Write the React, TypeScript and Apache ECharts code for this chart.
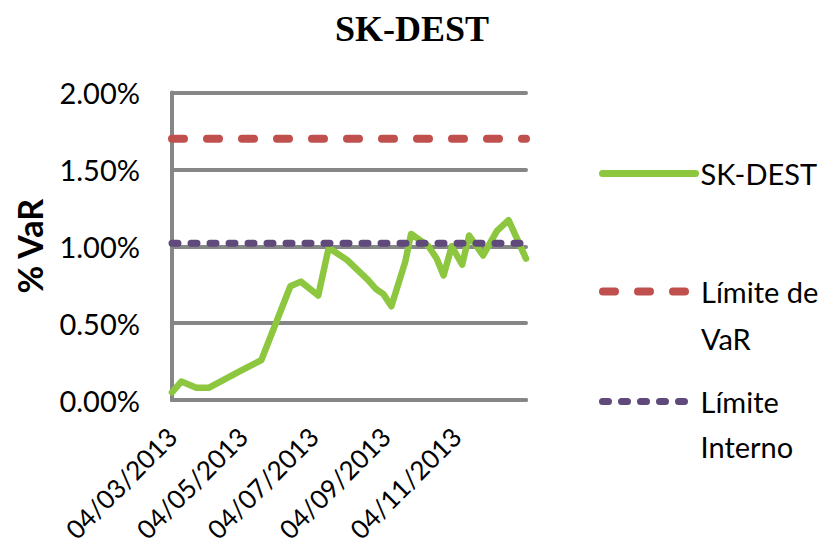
import React, { useEffect, useRef } from "react";
import * as echarts from "echarts";

const dates: string[] = [
  "2013-03-04", "2013-03-12", "2013-03-25", "2013-04-05", "2013-05-02", "2013-05-20",
  "2013-06-14", "2013-06-23", "2013-07-08", "2013-07-17", "2013-08-02", "2013-08-20",
  "2013-08-27", "2013-09-02", "2013-09-09", "2013-09-21", "2013-09-26", "2013-10-11",
  "2013-10-18", "2013-10-24", "2013-10-31", "2013-11-09", "2013-11-15", "2013-11-27",
  "2013-12-09", "2013-12-19", "2014-01-03",
];
const skDest: number[] = [
  0.05, 0.12, 0.08, 0.08, 0.19, 0.26,
  0.74, 0.77, 0.68, 0.99, 0.91, 0.78,
  0.72, 0.69, 0.61, 0.90, 1.08, 1.00,
  0.92, 0.81, 1.00, 0.88, 1.07, 0.94,
  1.10, 1.17, 0.92,
];
const limiteVaR = 1.7;
const limiteInterno = 1.02;
const tickDates: string[] = ["2013-03-04", "2013-05-04", "2013-07-04", "2013-09-04", "2013-11-04"];
const yTicks: number[] = [0, 0.5, 1.0, 1.5, 2.0];

const toTs = (s: string) => {
  const [y, m, d] = s.split("-").map(Number);
  return Date.UTC(y, m - 1, d);
};
const pad = (n: number) => (n < 10 ? "0" + n : "" + n);

const GREEN = "#8DC63F";
const RED = "#C0504D";
const PURPLE = "#604A7B";

export default function App() {
  const ref = useRef<HTMLDivElement>(null);
  useEffect(() => {
    if (!ref.current) return;
    const chart = echarts.init(ref.current, null, { renderer: "svg" });
    const minT = toTs(dates[0]);
    const maxT = toTs(dates[dates.length - 1]);
    const font = "Lato";
    const legendText = { fontFamily: font, fontSize: 29, color: "#000", lineHeight: 47 };
    const hiddenSymbol = { color: "transparent", borderColor: "transparent", borderWidth: 0 };
    const legendBase = {
      left: 599,
      padding: 0,
      orient: "vertical",
      itemWidth: 93,
      itemHeight: 14,
      itemGap: 0,
      itemStyle: hiddenSymbol,
      textStyle: legendText,
    };
    chart.setOption({
      animation: false,
      title: {
        text: "SK-DEST",
        left: "center",
        top: 6,
        textStyle: { fontFamily: "Liberation Serif", fontWeight: "bold", fontSize: 36, color: "#000" },
      },
      grid: { left: 172, right: 298, top: 92.5, bottom: 151, containLabel: false, outerBoundsMode: "none" },
      xAxis: {
        type: "value",
        min: minT,
        max: maxT,
        axisLine: { show: true, lineStyle: { color: "#868686", width: 4, cap: "round" } },
        axisTick: { show: false },
        splitLine: { show: false },
        axisLabel: {
          customValues: tickDates.map(toTs),
          rotate: 45,
          margin: 32,
          fontFamily: font,
          fontSize: 26,
          color: "#000",
          formatter: (v: number) => {
            const d = new Date(v);
            return pad(d.getUTCDate()) + "/" + pad(d.getUTCMonth() + 1) + "/" + d.getUTCFullYear();
          },
        },
      },
      yAxis: {
        type: "value",
        min: yTicks[0],
        max: yTicks[yTicks.length - 1],
        interval: 0.5,
        name: "% VaR",
        nameLocation: "middle",
        nameRotate: 90,
        nameGap: 126,
        nameTextStyle: { fontFamily: font, fontWeight: "bold", fontSize: 34, color: "#000" },
        axisLine: { show: true, lineStyle: { color: "#868686", width: 4, cap: "round" } },
        axisTick: { show: false },
        splitLine: { show: true, lineStyle: { color: "#868686", width: 4, cap: "round" } },
        axisLabel: {
          margin: 32,
          fontFamily: font,
          fontSize: 29,
          color: "#000",
          formatter: (v: number) => v.toFixed(2) + "%",
        },
      },
      legend: [
        {
          ...legendBase,
          data: ["SK-DEST"],
          top: 150,
          lineStyle: { width: 7, type: "solid", cap: "round" },
        },
        {
          ...legendBase,
          data: ["Límite de VaR"],
          top: 221,
          formatter: () => "\nLímite de\nVaR",
          lineStyle: { width: 8, type: [12, 23], cap: "round" },
        },
        {
          ...legendBase,
          data: ["Límite Interno"],
          top: 334,
          textStyle: { ...legendText, lineHeight: 45 },
          formatter: () => "\nLímite\nInterno",
          lineStyle: { width: 7, type: [6, 13], cap: "round" },
        },
      ],
      series: [
        {
          name: "SK-DEST",
          type: "line",
          data: dates.map((d, i) => [toTs(d), skDest[i]]),
          showSymbol: false,
          symbol: "none",
          lineStyle: { color: GREEN, width: 6.5, cap: "round", join: "round" },
          itemStyle: { color: GREEN },
          z: 3,
        },
        {
          name: "Límite de VaR",
          type: "line",
          data: [[minT, limiteVaR], [maxT, limiteVaR]],
          showSymbol: false,
          symbol: "none",
          lineStyle: { color: RED, width: 8, type: [12, 23], cap: "round" },
          itemStyle: { color: RED },
          z: 4,
        },
        {
          name: "Límite Interno",
          type: "line",
          data: [[minT, limiteInterno], [maxT, limiteInterno]],
          showSymbol: false,
          symbol: "none",
          lineStyle: { color: PURPLE, width: 7, type: [6, 13], cap: "round" },
          itemStyle: { color: PURPLE },
          z: 4,
        },
      ],
    });
    return () => chart.dispose();
  }, []);
  return (
    <div
      ref={ref}
      style={{ position: "absolute", left: 0, top: 0, width: 824, height: 551, background: "#fff" }}
    />
  );
}
